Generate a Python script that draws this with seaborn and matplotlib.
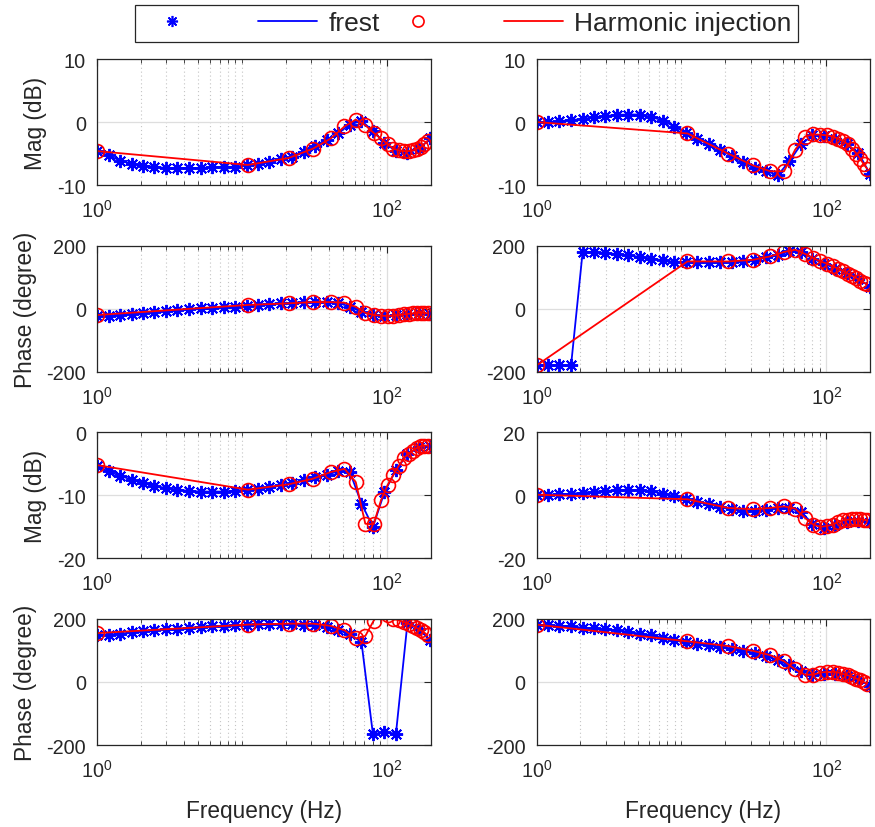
import numpy as np
import pandas as pd
import matplotlib
matplotlib.use("Agg")
import matplotlib.pyplot as plt
from matplotlib.lines import Line2D
from matplotlib.ticker import FixedLocator, NullFormatter
import seaborn as sns

# frequencies (Hz)
f_frest = [1.0, 1.20, 1.44, 1.73, 2.08, 2.49, 2.99, 3.59, 4.31, 5.18,
           6.21, 7.46, 8.95, 10.75, 12.9, 15.48, 18.59, 22.31, 26.78, 32.15,
           38.59, 46.33, 55.61, 66.76, 80.14, 96.19, 115.5, 138.6, 166.4, 199.7]
f_harm = [1, 11, 21, 31, 41, 51, 61, 71, 81, 91,
          101, 111, 121, 131, 141, 151, 161, 171, 181, 191]

# left column (frest / harmonic injection)
mag1_l_fr = [-4.6, -5.3, -6.1, -6.6, -6.9, -7.1, -7.3, -7.3, -7.3, -7.3,
             -7.2, -7.1, -7.1, -6.8, -6.6, -6.3, -5.9, -5.5, -4.8, -3.8,
             -2.9, -1.7, -0.4, 0.2, -1.4, -3.3, -4.6, -4.9, -4.2, -2.6]
mag1_l_hi = [-4.6, -6.8, -5.7, -4.2, -2.6, -0.7, 0.4, -0.5, -1.7, -2.6,
             -3.5, -4.2, -4.5, -4.6, -4.6, -4.5, -4.2, -4.0, -3.5, -3.0]
ph2_l_fr = [-24, -22, -20, -17, -13, -10, -7, -4, -1, 1,
            3, 4, 6, 10, 13, 15, 17, 19, 21, 22,
            22, 19, 6, -10, -20, -23, -21, -18, -15, -17]
ph2_l_hi = [-20, 12, 17, 21, 21, 19, 6, -13, -20, -22,
            -23, -22, -20, -18, -16, -15, -13, -13, -13, -15]
mag3_l_fr = [-5.4, -6.2, -6.9, -7.5, -8.05, -8.5, -8.85, -9.1, -9.3, -9.4,
             -9.4, -9.4, -9.25, -9.1, -8.95, -8.75, -8.4, -8.05, -7.6, -7.15,
             -6.7, -6.2, -6.3, -11.3, -15.0, -9.5, -6.0, -3.5, -2.4, -2.2]
mag3_l_hi = [-5.2, -9.1, -8.25, -7.35, -6.3, -5.8, -7.9, -14.5, -14.6, -10.8,
             -8.4, -6.7, -5.3, -4.1, -3.4, -2.9, -2.5, -2.2, -2.1, -2.1]
ph4_l_fr = [150, 150, 153, 157, 161, 164, 167, 169, 171, 175,
            177, 178, 180, 182, 183, 184, 184, 184, 182, 180,
            175, 164, 151, 127, -166, -159, -164, 186, 167, 132]
ph4_l_hi = [155, 182, 185, 185, 178, 164, 138, 146, 194, 228,
            212, 199, 196, 190, 185, 178, 171, 164, 157, 148]

# right column
mag1_r_fr = [0.0, 0.0, 0.15, 0.3, 0.5, 0.75, 0.95, 1.15, 1.2, 1.2,
             0.8, 0.25, -0.75, -1.7, -2.65, -3.55, -4.45, -5.4, -6.4, -7.3,
             -7.8, -8.4, -6.2, -3.55, -2.1, -2.2, -2.75, -3.55, -4.9, -8.2]
mag1_r_hi = [0.0, -1.8, -5.0, -6.85, -7.8, -7.8, -4.35, -2.3, -1.95, -2.0,
             -2.1, -2.3, -2.65, -3.0, -3.55, -4.2, -5.0, -5.8, -6.7, -7.4]
ph2_r_fr = [-180, -180, -180, -180, 180, 179, 177, 173, 169, 164,
            159, 153, 148, 148, 147, 147, 147, 148, 151, 155,
            163, 169, 182, 180, 159, 143, 127, 113, 95, 70]
ph2_r_hi = [-180, 150, 150, 155, 166, 180, 187, 174, 161, 150,
            143, 134, 127, 119, 111, 104, 97, 89, 83, 78]
mag3_r_fr = [0.2, 0.2, 0.3, 0.5, 0.85, 1.15, 1.35, 1.6, 1.7, 1.6,
             1.25, 0.5, -0.2, -1.05, -2.1, -2.85, -3.7, -4.4, -4.95, -4.95,
             -4.5, -4.0, -4.0, -5.25, -8.95, -10.3, -9.5, -8.6, -8.2, -8.4]
mag3_r_hi = [0.2, -1.25, -4.0, -4.4, -4.0, -3.5, -4.2, -7.15, -9.25, -10.0,
             -9.7, -9.25, -8.4, -7.9, -7.7, -7.6, -7.6, -7.6, -7.7, -7.9]
ph4_r_fr = [182, 180, 178, 176, 172, 170, 167, 164, 159, 153,
            148, 140, 134, 127, 122, 116, 111, 106, 99, 92,
            81, 69, 53, 34, 23, 26, 26, 19, 8, -13]
ph4_r_hi = [182, 129, 114, 99, 85, 66, 40, 23, 23, 30,
            32, 32, 30, 25, 21, 16, 11, 5, 0, -5]

sns.set_style("white")
plt.rcParams['font.family'] = ['Liberation Sans', 'DejaVu Sans']
plt.rcParams['axes.unicode_minus'] = False

ASTER = (8, 2, 0)

panels = [
    (mag1_l_fr, mag1_l_hi, (-10, 10), [-10, 0, 10], 'Mag (dB)'),
    (mag1_r_fr, mag1_r_hi, (-10, 10), [-10, 0, 10], None),
    (ph2_l_fr, ph2_l_hi, (-200, 200), [-200, 0, 200], 'Phase (degree)'),
    (ph2_r_fr, ph2_r_hi, (-200, 200), [-200, 0, 200], None),
    (mag3_l_fr, mag3_l_hi, (-20, 0), [-20, -10, 0], 'Mag (dB)'),
    (mag3_r_fr, mag3_r_hi, (-20, 20), [-20, 0, 20], None),
    (ph4_l_fr, ph4_l_hi, (-200, 200), [-200, 0, 200], 'Phase (degree)'),
    (ph4_r_fr, ph4_r_hi, (-200, 200), [-200, 0, 200], None),
]

fig, axes = plt.subplots(4, 2, figsize=(8.75, 8.28), dpi=100)
fig.subplots_adjust(left=0.1109, right=0.9943, bottom=0.099, top=0.9275,
                    wspace=0.318, hspace=0.48)

minor_pos = [2, 3, 4, 5, 6, 7, 8, 9, 10, 20, 30, 40, 50, 60, 70, 80, 90, 200]

for i, (ax, (yfr, yhi, ylim, yt, ylab)) in enumerate(zip(axes.flat, panels)):
    ax.set_xscale('log')
    ax.set_xlim(1, 200)
    ax.set_ylim(*ylim)
    ax.xaxis.set_major_locator(FixedLocator([1, 100]))
    ax.xaxis.set_minor_locator(FixedLocator(minor_pos))
    ax.xaxis.set_minor_formatter(NullFormatter())
    ax.set_yticks(yt)
    ax.grid(True, which='major', color='#dedede', linewidth=0.9, zorder=0)
    ax.grid(True, which='minor', axis='x', color='#c4c4c4', linestyle=(0, (1, 2.5)),
            linewidth=0.8, zorder=0)
    ax.set_axisbelow(True)

    fr = pd.DataFrame({'f': f_frest, 'y': yfr})
    hi = pd.DataFrame({'f': f_harm, 'y': yhi})
    sns.lineplot(data=fr, x='f', y='y', ax=ax, estimator=None, sort=False,
                 color='#0000ff', linewidth=1.3, marker=ASTER, markersize=9.5,
                 markeredgecolor='#0000ff', markeredgewidth=1.4)
    sns.lineplot(data=hi, x='f', y='y', ax=ax, estimator=None, sort=False,
                 color='#ff0000', linewidth=1.3, marker='o', markersize=10,
                 markerfacecolor='none', markeredgecolor='#ff0000', markeredgewidth=1.2)

    ax.set_xlabel('Frequency (Hz)' if i >= 6 else '', fontsize=16.3, labelpad=13)
    ax.set_ylabel(ylab if ylab else '', fontsize=16.3, labelpad=7)
    ax.tick_params(axis='both', which='major', direction='in', top=True, right=True,
                   length=5, width=0.8, labelsize=14.3, pad=8, color='#262626')
    ax.tick_params(axis='x', which='major', pad=10)
    ax.tick_params(axis='x', which='minor', direction='in', top=True, bottom=True,
                   length=3, width=0.6, color='#262626')
    for sp in ax.spines.values():
        sp.set_color('#262626')
        sp.set_linewidth(0.9)

handles = [
    Line2D([], [], linestyle='none', marker=ASTER, markersize=8, color='#0000ff', markeredgewidth=1.2),
    Line2D([], [], color='#0000ff', linewidth=1.3),
    Line2D([], [], linestyle='none', marker='o', markersize=8, markerfacecolor='none',
           markeredgecolor='#ff0000', markeredgewidth=1.2),
    Line2D([], [], color='#ff0000', linewidth=1.3),
]
labels = [' ' * 5, 'frest', ' ' * 5, 'Harmonic injection']
leg = fig.legend(handles, labels, loc='center', bbox_to_anchor=(0.5335, 0.9705), ncol=4,
                 frameon=True, fancybox=False, edgecolor='#262626', framealpha=1,
                 fontsize=19, handlelength=2.25, handletextpad=0.43,
                 columnspacing=0.31, borderpad=0.25)
leg.get_frame().set_linewidth(0.9)

fig.savefig('out.png', dpi=100)
